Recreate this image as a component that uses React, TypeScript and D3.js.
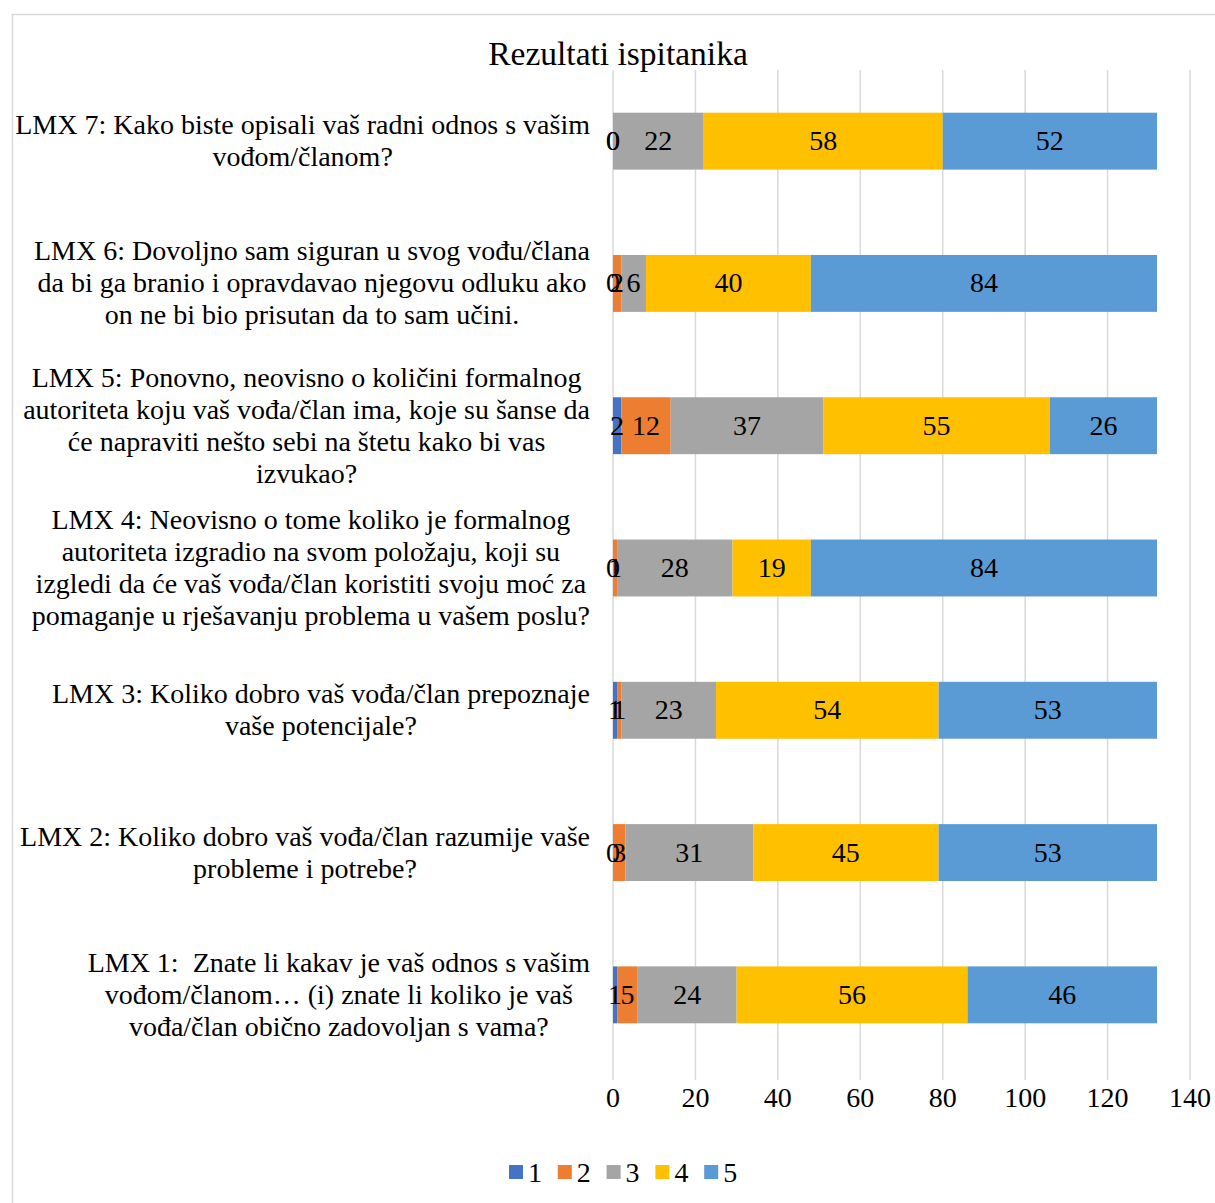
import React, { useRef, useEffect } from 'react'
import * as d3 from 'd3'

// categories, top to bottom as drawn
const categories = ['LMX 7', 'LMX 6', 'LMX 5', 'LMX 4', 'LMX 3', 'LMX 2', 'LMX 1']

const labelLines = [
  ['LMX 7: Kako biste opisali vaš radni odnos s vašim', 'vođom/članom?'],
  [
    'LMX 6: Dovoljno sam siguran u svog vođu/člana',
    'da bi ga branio i opravdavao njegovu odluku ako',
    'on ne bi bio prisutan da to sam učini.',
  ],
  [
    'LMX 5: Ponovno, neovisno o količini formalnog',
    'autoriteta koju vaš vođa/član ima, koje su šanse da',
    'će napraviti nešto sebi na štetu kako bi vas',
    'izvukao?',
  ],
  [
    'LMX 4: Neovisno o tome koliko je formalnog',
    'autoriteta izgradio na svom položaju, koji su',
    'izgledi da će vaš vođa/član koristiti svoju moć za',
    'pomaganje u rješavanju problema u vašem poslu?',
  ],
  ['LMX 3: Koliko dobro vaš vođa/član prepoznaje', 'vaše potencijale?'],
  ['LMX 2: Koliko dobro vaš vođa/član razumije vaše', 'probleme i potrebe?'],
  [
    'LMX 1:  Znate li kakav je vaš odnos s vašim',
    'vođom/članom… (i) znate li koliko je vaš',
    'vođa/član obično zadovoljan s vama?',
  ],
]

// series values per category (same order as categories)
const series1 = [0, 0, 2, 0, 1, 0, 1]
const series2 = [0, 2, 12, 1, 1, 3, 5]
const series3 = [22, 6, 37, 28, 23, 31, 24]
const series4 = [58, 40, 55, 19, 54, 45, 56]
const series5 = [52, 84, 26, 84, 53, 53, 46]

const seriesNames = ['1', '2', '3', '4', '5']
const seriesColors = ['#4472C4', '#ED7D31', '#A5A5A5', '#FFC000', '#5B9BD5']
const xTicks = [0, 20, 40, 60, 80, 100, 120, 140]

const W = 1215
const H = 1203
const FONT = '"Liberation Serif", "Times New Roman", serif'
const FS = 28

function App() {
  const svgRef = useRef(null)

  useEffect(() => {
    const svg = d3.select(svgRef.current)
    svg.selectAll('*').remove()

    const allSeries = [series1, series2, series3, series4, series5]
    const rows = categories.map((c, i) => {
      const r: any = { cat: c }
      seriesNames.forEach((s, k) => (r[s] = allSeries[k][i]))
      return r
    })
    const stacked = d3.stack<any>().keys(seriesNames)(rows)

    const x = d3.scaleLinear().domain([0, 140]).range([613, 1190])
    const y = d3
      .scaleBand()
      .domain(categories)
      .range([70, 1066])
      .paddingInner(0.6)
      .paddingOuter(0.3)

    // chart frame
    svg
      .append('rect')
      .attr('x', 12.5)
      .attr('y', 14.5)
      .attr('width', W)
      .attr('height', H)
      .attr('fill', '#fff')
      .attr('stroke', '#d9d9d9')
      .attr('stroke-width', 1.5)

    //title
    svg
      .append('text')
      .attr('x', 618)
      .attr('y', 65)
      .attr('text-anchor', 'middle')
      .style('font-family', FONT)
      .style('font-size', '33.5px')
      .text('Rezultati ispitanika')

    //gridlines
    svg
      .append('g')
      .selectAll('line')
      .data(xTicks)
      .join('line')
      .attr('x1', (d) => x(d))
      .attr('x2', (d) => x(d))
      .attr('y1', 70)
      .attr('y2', 1080)
      .attr('stroke', '#d9d9d9')
      .attr('stroke-width', 1.5)

    //tick labels
    svg
      .append('g')
      .selectAll('text')
      .data(xTicks)
      .join('text')
      .attr('x', (d) => x(d))
      .attr('y', 1107)
      .attr('text-anchor', 'middle')
      .style('font-family', FONT)
      .style('font-size', FS + 'px')
      .text((d) => d)

    //bars
    const layer = svg
      .append('g')
      .selectAll('g')
      .data(stacked)
      .join('g')
      .attr('fill', (_d, i) => seriesColors[i])
    layer
      .selectAll('rect')
      .data((d) => d)
      .join('rect')
      .attr('x', (d) => x(d[0]))
      .attr('width', (d) => x(d[1]) - x(d[0]))
      .attr('y', (d: any) => y(d.data.cat) as number)
      .attr('height', y.bandwidth())

    //data labels
    const lbl = svg.append('g')
    stacked.forEach((s) => {
      s.forEach((d: any) => {
        lbl
          .append('text')
          .attr('x', (x(d[0]) + x(d[1])) / 2)
          .attr('y', (y(d.data.cat) as number) + y.bandwidth() / 2 + 9)
          .attr('text-anchor', 'middle')
          .style('font-family', FONT)
          .style('font-size', FS + 'px')
          .text(d[1] - d[0])
      })
    })

    //category labels, centered lines in a block right-aligned to the plot
    const ctx = document.createElement('canvas').getContext('2d') as CanvasRenderingContext2D
    ctx.font = FS + 'px "Liberation Serif"'
    const catG = svg.append('g')
    categories.forEach((c, i) => {
      const lines = labelLines[i]
      const maxW = d3.max(lines, (l) => ctx.measureText(l).width) as number
      const cx = 590 - maxW / 2
      const cy = (y(c) as number) + y.bandwidth() / 2
      const lh = 32
      lines.forEach((l, j) => {
        catG
          .append('text')
          .attr('x', cx)
          .attr('y', cy + (j - (lines.length - 1) / 2) * lh + 9)
          .attr('text-anchor', 'middle')
          .style('font-family', FONT)
          .style('font-size', FS + 'px')
          .style('white-space', 'pre')
          .text(l)
      })
    })

    //legend
    const leg = svg
      .append('g')
      .selectAll('g')
      .data(seriesNames)
      .join('g')
      .attr('transform', (_d, i) => `translate(${509 + i * 48.8},1165)`)
    leg
      .append('rect')
      .attr('width', 14)
      .attr('height', 14)
      .attr('fill', (_d, i) => seriesColors[i])
    leg
      .append('text')
      .attr('x', 19)
      .attr('y', 17)
      .style('font-family', FONT)
      .style('font-size', FS + 'px')
      .text((d) => d)
  }, [])

  return (
    <svg
      ref={svgRef}
      width={W}
      height={H}
      style={{ position: 'absolute', left: 0, top: 0, background: '#fff' }}
    />
  )
}

export default App
